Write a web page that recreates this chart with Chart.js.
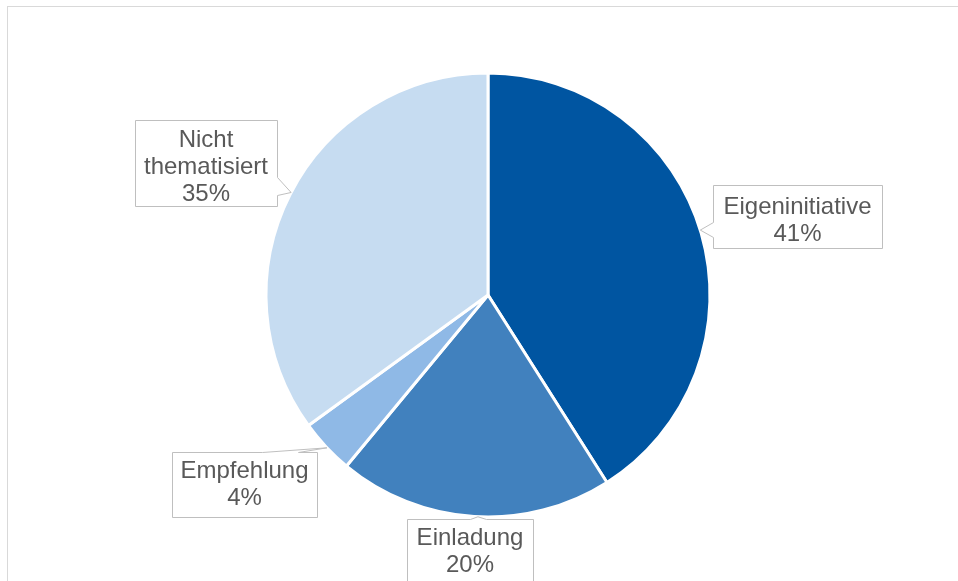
<!DOCTYPE html>
<html>
<head>
<meta charset="utf-8">
<script src="https://cdn.jsdelivr.net/npm/chart.js@4"></script>
<style>
  html, body { margin: 0; padding: 0; background: #ffffff; }
  #wrap { width: 958px; height: 581px; position: relative; }
</style>
</head>
<body>
<div id="wrap"><canvas id="c" width="958" height="581"></canvas></div>
<script>
// ---- data ----
const categories = ['Eigeninitiative', 'Einladung', 'Empfehlung', 'Nicht thematisiert'];
const labelLines = [['Eigeninitiative'], ['Einladung'], ['Empfehlung'], ['Nicht', 'thematisiert']];
const values = [41, 20, 4, 35];
const colors = ['#0055A1', '#4181BE', '#8FB9E6', '#C6DCF1'];

// ---- callout layout (style only) ----
// box: [x, y, w, h]; tipDeg: angle on the pie edge (deg, canvas coords); textY: first line centre offset
const callouts = [
  { box: [713, 185, 169, 63], tipDeg: -17.0, side: 'left',  base: [222, 237], textY: 22 },
  { box: [407, 519, 126, 80], tipDeg: 92.6,  side: 'top',   base: [470, 486], textY: 19 },
  { box: [172, 452, 145, 65], tipDeg: 136.5, side: 'top',   base: [262, 298], textY: 19 },
  { box: [135, 120, 142, 86], tipDeg: -152.5, side: 'right', base: [177, 195], textY: 20 }
];

const calloutPlugin = {
  id: 'callouts',
  beforeDraw(chart) {
    const ctx = chart.ctx;
    ctx.save();
    ctx.strokeStyle = '#d9d9d9';
    ctx.lineWidth = 1;
    ctx.strokeRect(7.5, 6.5, 1200, 1200);
    ctx.restore();
  },
  afterDraw(chart) {
    const ctx = chart.ctx;
    const meta = chart.getDatasetMeta(0);
    ctx.save();
    meta.data.forEach((arc, i) => {
      const c = callouts[i];
      const a = c.tipDeg * Math.PI / 180;
      const tx = arc.x + Math.cos(a) * arc.outerRadius;
      const ty = arc.y + Math.sin(a) * arc.outerRadius;
      const [x, y, w, h] = c.box;
      const X = (v) => Math.round(v) + 0.5;
      ctx.beginPath();
      ctx.moveTo(X(x), X(y));
      if (c.side === 'top') {
        ctx.lineTo(X(c.base[0]), X(y));
        ctx.lineTo(tx, ty);
        ctx.lineTo(X(c.base[1]), X(y));
      }
      ctx.lineTo(X(x + w), X(y));
      if (c.side === 'right') {
        ctx.lineTo(X(x + w), X(c.base[0]));
        ctx.lineTo(tx, ty);
        ctx.lineTo(X(x + w), X(c.base[1]));
      }
      ctx.lineTo(X(x + w), X(y + h));
      ctx.lineTo(X(x), X(y + h));
      if (c.side === 'left') {
        ctx.lineTo(X(x), X(c.base[1]));
        ctx.lineTo(tx, ty);
        ctx.lineTo(X(x), X(c.base[0]));
      }
      ctx.closePath();
      ctx.fillStyle = '#ffffff';
      ctx.fill();
      ctx.strokeStyle = '#bfbfbf';
      ctx.lineWidth = 1;
      ctx.stroke();

      const lines = labelLines[i].concat([values[i] + '%']);
      ctx.fillStyle = '#595959';
      ctx.font = '24px "Liberation Sans", Arial, sans-serif';
      ctx.textAlign = 'center';
      ctx.textBaseline = 'middle';
      const lh = 27;
      const cx = x + w / 2;
      lines.forEach((t, k) => ctx.fillText(t, cx, y + c.textY + k * lh));
    });
    ctx.restore();
  }
};

new Chart(document.getElementById('c'), {
  type: 'pie',
  data: {
    labels: categories,
    datasets: [{
      data: values,
      backgroundColor: colors,
      borderColor: '#ffffff',
      borderWidth: 3,
      radius: 222
    }]
  },
  options: {
    responsive: false,
    animation: false,
    layout: { padding: { left: 18, right: 0, top: 9, bottom: 0 } },
    plugins: {
      legend: { display: false },
      tooltip: { enabled: false }
    }
  },
  plugins: [calloutPlugin]
});
</script>
</body>
</html>
